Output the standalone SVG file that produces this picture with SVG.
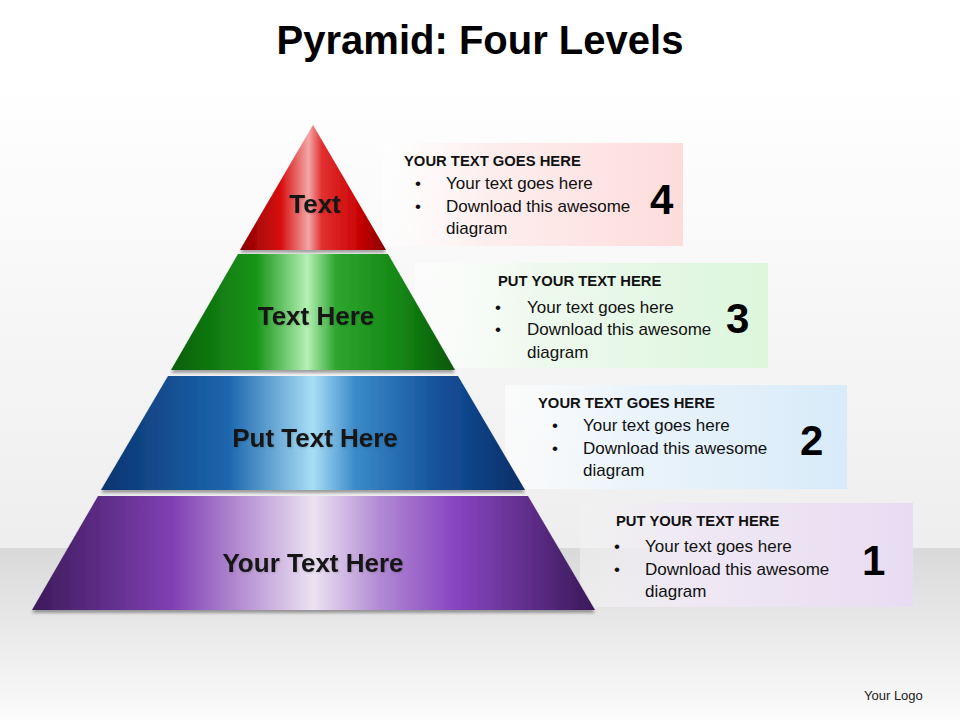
<svg xmlns="http://www.w3.org/2000/svg" width="960" height="720" viewBox="0 0 960 720">
<defs>
<linearGradient id="bgTop" x1="0" y1="0" x2="0" y2="1">
<stop offset="0" stop-color="#ffffff"/><stop offset="0.15" stop-color="#ffffff"/><stop offset="1" stop-color="#eeeeee"/>
</linearGradient>
<linearGradient id="bgFloor" x1="0" y1="0" x2="0" y2="1">
<stop offset="0" stop-color="#d9d9d9"/><stop offset="1" stop-color="#fbfbfb"/>
</linearGradient>
<linearGradient id="gRed" x1="0" y1="0" x2="1" y2="0">
<stop offset="0" stop-color="#8a0000"/><stop offset="0.28" stop-color="#d81010"/><stop offset="0.47" stop-color="#f3a6a6"/><stop offset="0.56" stop-color="#e23030"/><stop offset="0.8" stop-color="#cc0606"/><stop offset="1" stop-color="#8a0000"/>
</linearGradient>
<linearGradient id="gGreen" x1="0" y1="0" x2="1" y2="0">
<stop offset="0" stop-color="#0b5e0b"/><stop offset="0.3" stop-color="#179517"/><stop offset="0.48" stop-color="#b4f0b4"/><stop offset="0.58" stop-color="#2ea62e"/><stop offset="0.8" stop-color="#148814"/><stop offset="1" stop-color="#0a560a"/>
</linearGradient>
<linearGradient id="gBlue" x1="0" y1="0" x2="1" y2="0">
<stop offset="0" stop-color="#0c3470"/><stop offset="0.3" stop-color="#1c66ae"/><stop offset="0.5" stop-color="#a8def6"/><stop offset="0.6" stop-color="#3a8ac8"/><stop offset="0.8" stop-color="#14509a"/><stop offset="1" stop-color="#0a2e66"/>
</linearGradient>
<linearGradient id="gPurple" x1="0" y1="0" x2="1" y2="0">
<stop offset="0" stop-color="#3c1a5a"/><stop offset="0.25" stop-color="#8040b4"/><stop offset="0.5" stop-color="#ece2f2"/><stop offset="0.62" stop-color="#b088d2"/><stop offset="0.75" stop-color="#8846c2"/><stop offset="1" stop-color="#3a1858"/>
</linearGradient>
<linearGradient id="bRed" x1="0" y1="0" x2="1" y2="0">
<stop offset="0" stop-color="#ffffff" stop-opacity="0.6"/><stop offset="0.35" stop-color="#fdeeee"/><stop offset="1" stop-color="#fedcdc"/>
</linearGradient>
<linearGradient id="bGreen" x1="0" y1="0" x2="1" y2="0">
<stop offset="0" stop-color="#ffffff" stop-opacity="0.6"/><stop offset="0.35" stop-color="#eef9ee"/><stop offset="1" stop-color="#dcf6dc"/>
</linearGradient>
<linearGradient id="bBlue" x1="0" y1="0" x2="1" y2="0">
<stop offset="0" stop-color="#ffffff" stop-opacity="0.6"/><stop offset="0.35" stop-color="#ebf4fb"/><stop offset="1" stop-color="#d8ebf9"/>
</linearGradient>
<linearGradient id="bPurple" x1="0" y1="0" x2="1" y2="0">
<stop offset="0" stop-color="#f2f2f2" stop-opacity="0.6"/><stop offset="0.35" stop-color="#efe8f4"/><stop offset="1" stop-color="#e8dcf2"/>
</linearGradient>
<filter id="shadow" x="-10%" y="-10%" width="120%" height="130%">
<feGaussianBlur in="SourceAlpha" stdDeviation="1.5"/>
<feOffset dy="3" result="o"/>
<feComponentTransfer><feFuncA type="linear" slope="0.35"/></feComponentTransfer>
<feMerge><feMergeNode/><feMergeNode in="SourceGraphic"/></feMerge>
</filter>
<filter id="tshadow" x="-10%" y="-20%" width="120%" height="140%">
<feGaussianBlur in="SourceAlpha" stdDeviation="0.8"/>
<feOffset dx="1" dy="1"/>
<feComponentTransfer><feFuncA type="linear" slope="0.15"/></feComponentTransfer>
<feMerge><feMergeNode/><feMergeNode in="SourceGraphic"/></feMerge>
</filter>
</defs>
<style>
.title{font-family:"Liberation Sans",Arial,sans-serif;font-weight:bold;font-size:40px;fill:#000}
.tier{font-family:"Liberation Sans",Arial,sans-serif;font-weight:bold;font-size:26px;fill:#151515;text-anchor:middle}
.hd{font-family:"Liberation Sans",Arial,sans-serif;font-weight:bold;font-size:14.8px;fill:#111}
.bt{font-family:"Liberation Sans",Arial,sans-serif;font-size:17px;fill:#111}
.num{font-family:"Liberation Sans",Arial,sans-serif;font-weight:bold;font-size:42px;fill:#000}
.logo{font-family:"Liberation Sans",Arial,sans-serif;font-size:13px;fill:#222}
</style>
<rect x="0" y="0" width="960" height="548" fill="url(#bgTop)"/>
<rect x="0" y="548" width="960" height="172" fill="url(#bgFloor)"/>
<text class="title" x="480" y="54" text-anchor="middle">Pyramid: Four Levels</text>

<g id="box4">
<rect x="383" y="143" width="300" height="103" fill="url(#bRed)"/>
<text class="hd" x="404" y="166">YOUR TEXT GOES HERE</text>
<text class="bt" x="415" y="189">•</text><text class="bt" x="446" y="189">Your text goes here</text>
<text class="bt" x="415" y="212">•</text><text class="bt" x="446" y="212">Download this awesome</text>
<text class="bt" x="446" y="234">diagram</text>
<text class="num" x="650" y="214">4</text>
</g>
<g id="box3">
<rect x="415" y="263" width="353" height="105" fill="url(#bGreen)"/>
<text class="hd" x="498" y="286">PUT YOUR TEXT HERE</text>
<text class="bt" x="495" y="313">•</text><text class="bt" x="527" y="313">Your text goes here</text>
<text class="bt" x="495" y="335">•</text><text class="bt" x="527" y="335">Download this awesome</text>
<text class="bt" x="527" y="358">diagram</text>
<text class="num" x="726" y="333">3</text>
</g>
<g id="box2">
<rect x="505" y="385" width="342" height="104" fill="url(#bBlue)"/>
<text class="hd" x="538" y="408">YOUR TEXT GOES HERE</text>
<text class="bt" x="552" y="431">•</text><text class="bt" x="583" y="431">Your text goes here</text>
<text class="bt" x="552" y="454">•</text><text class="bt" x="583" y="454">Download this awesome</text>
<text class="bt" x="583" y="476">diagram</text>
<text class="num" x="800" y="455">2</text>
</g>
<g id="box1">
<rect x="580" y="503" width="333" height="104" fill="url(#bPurple)"/>
<text class="hd" x="616" y="526">PUT YOUR TEXT HERE</text>
<text class="bt" x="614" y="552">•</text><text class="bt" x="645" y="552">Your text goes here</text>
<text class="bt" x="614" y="575">•</text><text class="bt" x="645" y="575">Download this awesome</text>
<text class="bt" x="645" y="597">diagram</text>
<text class="num" x="862" y="575">1</text>
</g>

<g id="tier4">
<polygon points="313,125 386,250 240,250" fill="url(#gRed)" filter="url(#shadow)"/>
<text class="tier" x="315" y="213" filter="url(#tshadow)">Text</text>
</g>
<g id="tier3">
<polygon points="238,254 388,254 455,370 171,370" fill="url(#gGreen)" filter="url(#shadow)"/>
<text class="tier" x="316" y="325" filter="url(#tshadow)">Text Here</text>
</g>
<g id="tier2">
<polygon points="168,376 458,376 525,490 101,490" fill="url(#gBlue)" filter="url(#shadow)"/>
<text class="tier" x="315" y="447" filter="url(#tshadow)">Put Text Here</text>
</g>
<g id="tier1">
<polygon points="98,496 528,496 595,610 32,610" fill="url(#gPurple)" filter="url(#shadow)"/>
<text class="tier" x="313" y="572" filter="url(#tshadow)">Your Text Here</text>
</g>
<g id="connectors"/>
<text class="logo" x="864" y="700">Your Logo</text>
</svg>
